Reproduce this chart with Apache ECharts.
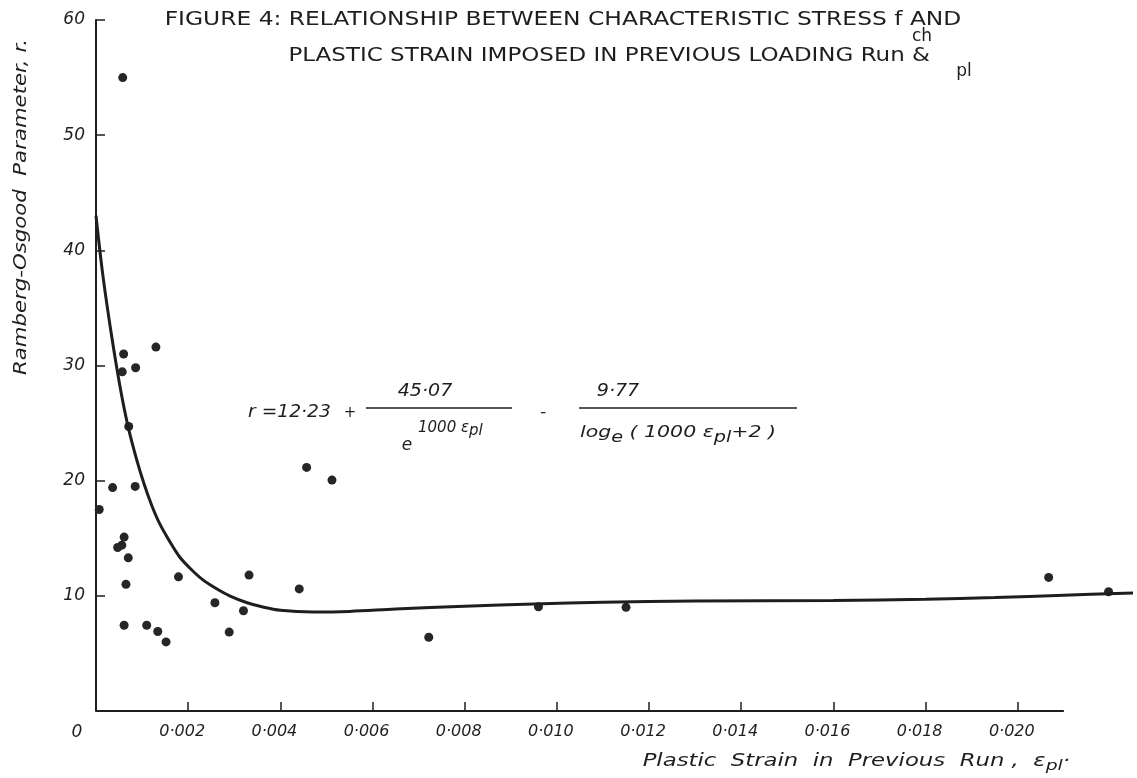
<!DOCTYPE html>
<html>
<head>
<meta charset="utf-8">
<script src="https://cdn.jsdelivr.net/npm/echarts@6/dist/echarts.min.js"></script>
<style>
  html, body { margin: 0; padding: 0; background: #fff; }
  #chart { width: 1137px; height: 778px; }
</style>
</head>
<body>
<div id="chart"></div>
<script>
// tick labels
const xTicks = [0.002, 0.004, 0.006, 0.008, 0.010, 0.012, 0.014, 0.016, 0.018, 0.020];
const yTicks = [10, 20, 30, 40, 50, 60];
const xAxisEnd = 0.021;   // where the drawn axis line stops

// observed points (plastic strain, r)
const obsStrain = [0.00007, 0.00036, 0.00047, 0.00056, 0.00058, 0.0006, 0.00057, 0.00061, 0.00065,
  0.00061, 0.00071, 0.0007, 0.00085, 0.00086, 0.0011, 0.0013, 0.00134, 0.00152, 0.00179,
  0.00258, 0.00289, 0.0032, 0.00332, 0.00441, 0.00457, 0.00512, 0.00722, 0.0096, 0.0115,
  0.02067, 0.02197];
const obsR = [17.5, 19.4, 14.2, 14.4, 55.0, 31.0, 29.45, 15.1, 11.0,
  7.45, 24.7, 13.3, 19.5, 29.8, 7.45, 31.6, 6.9, 6.0, 11.65,
  9.4, 6.85, 8.7, 11.8, 10.6, 21.15, 20.05, 6.4, 9.05, 9.0,
  11.6, 10.35];

// fitted curve as drawn
const fitStrain = [0, 0.00015, 0.00033, 0.00052, 0.00069, 0.00087, 0.00104, 0.00121, 0.00139,
  0.00161, 0.00182, 0.00204, 0.0023, 0.00258, 0.0029, 0.00328, 0.0036, 0.004, 0.0047,
  0.0055, 0.0065, 0.008, 0.0095, 0.011, 0.013, 0.016, 0.018, 0.0195, 0.021, 0.0225];
const fitR = [43.0, 37.8, 32.8, 28.2, 24.8, 22.0, 19.75, 17.85, 16.2,
  14.65, 13.35, 12.4, 11.45, 10.7, 10.0, 9.4, 9.05, 8.75, 8.6,
  8.65, 8.85, 9.1, 9.3, 9.45, 9.55, 9.6, 9.7, 9.85, 10.05, 10.25];

const ink = '#1e1e1e';
const fmt = v => v.toFixed(3).replace('.', '·');
const ital = { fontFamily: 'DejaVu Sans', fontStyle: 'italic', fill: ink };

var chart = echarts.init(document.getElementById('chart'));
var option = {
  backgroundColor: '#fff',
  animation: false,
  grid: { left: 96, top: 20, right: 4, bottom: 67 },
  xAxis: {
    type: 'value', min: 0, max: 0.0225,
    splitLine: { show: false },
    axisLine: { show: false },
    axisTick: { inside: true, length: 9, customValues: [0].concat(xTicks), lineStyle: { color: ink, width: 1.5 } },
    axisLabel: {
      customValues: xTicks, margin: 13,
      formatter: v => '{t|' + fmt(v) + '}',
      rich: { t: { fontFamily: 'DejaVu Sans', fontStyle: 'italic', fontSize: 16, color: ink, padding: [0, 12, 0, 0] } }
    }
  },
  yAxis: {
    type: 'value', min: 0, max: 60, interval: 10,
    splitLine: { show: false },
    axisLine: { lineStyle: { color: ink, width: 2 } },
    axisTick: { inside: true, length: 9, customValues: yTicks, lineStyle: { color: ink, width: 1.5 } },
    axisLabel: {
      customValues: yTicks, margin: 11,
      fontFamily: 'DejaVu Sans', fontStyle: 'italic', fontSize: 17, color: ink
    }
  },
  series: [
    {
      type: 'line', smooth: 0.35, clip: false, symbol: 'none',
      data: fitStrain.map((x, i) => [x, fitR[i]]),
      lineStyle: { color: ink, width: 3 }
    },
    {
      type: 'scatter', clip: false, symbolSize: 9,
      data: obsStrain.map((x, i) => [x, obsR[i]]),
      itemStyle: { color: '#262626', opacity: 1 },
      markLine: {
        silent: true, symbol: ['none', 'none'], label: { show: false },
        lineStyle: { color: ink, width: 2, type: 'solid' },
        data: [[{ coord: [0, 0] }, { coord: [xAxisEnd, 0] }]]
      }
    }
  ],
  graphic: [
    // title
    { type: 'text', x: 563, y: 20, scaleX: 1.23, style: { text: 'FIGURE 4: RELATIONSHIP BETWEEN CHARACTERISTIC STRESS f AND', fontFamily: 'DejaVu Sans', fontSize: 19, fill: ink, align: 'center', verticalAlign: 'middle' } },
    { type: 'text', x: 930, y: 56, scaleX: 1.21, style: { text: 'PLASTIC STRAIN IMPOSED IN PREVIOUS LOADING Run &', fontFamily: 'DejaVu Sans', fontSize: 19, fill: ink, align: 'right', verticalAlign: 'middle' } },
    { type: 'text', x: 922, y: 37, style: { text: 'ch', fontFamily: 'DejaVu Sans', fontSize: 17, fill: ink, align: 'center', verticalAlign: 'middle' } },
    { type: 'text', x: 964, y: 72, style: { text: 'pl', fontFamily: 'DejaVu Sans', fontSize: 17, fill: ink, align: 'center', verticalAlign: 'middle' } },
    // axis names
    { type: 'text', x: 22, y: 207, rotation: Math.PI / 2, scaleX: 1.25, style: Object.assign({ text: 'Ramberg-Osgood  Parameter, r.', fontSize: 17, align: 'center', verticalAlign: 'middle' }, ital) },
    { type: 'text', x: 77, y: 733, style: Object.assign({ text: '0', fontSize: 17, align: 'center', verticalAlign: 'middle' }, ital) },
    { type: 'text', x: 1070, y: 762, scaleX: 1.34, style: Object.assign({
        text: '{a|Plastic  Strain  in  Previous  Run ,  ε}{s|pl}{a|·}', align: 'right', verticalAlign: 'middle',
        rich: { a: { fontFamily: 'DejaVu Sans', fontStyle: 'italic', fontSize: 17, color: ink }, s: { fontFamily: 'DejaVu Sans', fontStyle: 'italic', fontSize: 14, color: ink, padding: [8, 0, 0, 0] } }
      }, ital) },
    // formula
    { type: 'text', x: 248, y: 413, scaleX: 1.1, style: Object.assign({ text: 'r =12·23', fontSize: 17, align: 'left', verticalAlign: 'middle' }, ital) },
    { type: 'text', x: 350, y: 413, style: Object.assign({ text: '+', fontSize: 15, align: 'center', verticalAlign: 'middle' }, ital) },
    { type: 'line', shape: { x1: 366, y1: 408, x2: 512, y2: 408 }, style: { stroke: ink, lineWidth: 1.5 } },
    { type: 'text', x: 425, y: 392, scaleX: 1.12, style: Object.assign({ text: '45·07', fontSize: 17, align: 'center', verticalAlign: 'middle' }, ital) },
    { type: 'text', x: 407, y: 446, style: Object.assign({ text: 'e', fontSize: 17, align: 'center', verticalAlign: 'middle' }, ital) },
    { type: 'text', x: 418, y: 428, style: Object.assign({
        text: '{a|1000 ε}{s|pl}', align: 'left', verticalAlign: 'middle',
        rich: { a: { fontFamily: 'DejaVu Sans', fontStyle: 'italic', fontSize: 15, color: ink }, s: { fontFamily: 'DejaVu Sans', fontStyle: 'italic', fontSize: 15, color: ink, padding: [6, 0, 0, 0] } }
      }, ital) },
    { type: 'text', x: 543, y: 413, style: Object.assign({ text: '-', fontSize: 17, align: 'center', verticalAlign: 'middle' }, ital) },
    { type: 'line', shape: { x1: 579, y1: 408, x2: 797, y2: 408 }, style: { stroke: ink, lineWidth: 1.5 } },
    { type: 'text', x: 618, y: 392, scaleX: 1.12, style: Object.assign({ text: '9·77', fontSize: 17, align: 'center', verticalAlign: 'middle' }, ital) },
    { type: 'text', x: 580, y: 433, scaleX: 1.28, style: Object.assign({
        text: '{a|log}{s|e}{a| ( 1000 ε}{s|pl}{a|+2 )}', align: 'left', verticalAlign: 'middle',
        rich: { a: { fontFamily: 'DejaVu Sans', fontStyle: 'italic', fontSize: 16, color: ink }, s: { fontFamily: 'DejaVu Sans', fontStyle: 'italic', fontSize: 15, color: ink, padding: [10, 0, 0, 0] } }
      }, ital) }
  ]
};
chart.setOption(option);
</script>
</body>
</html>
